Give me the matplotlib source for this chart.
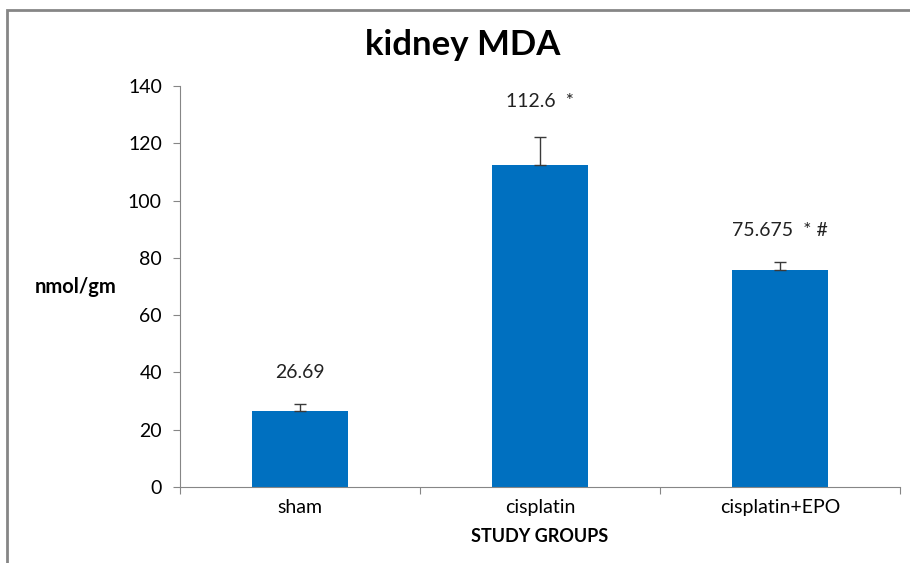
import matplotlib.pyplot as plt
from matplotlib.patches import Rectangle

groups = ['sham', 'cisplatin', 'cisplatin+EPO']
means = [26.69, 112.6, 75.675]
errors = [2.3, 9.6, 2.9]
labels = ['26.69', '112.6  *', '75.675  * #']
label_y = [40, 134.5, 89.7]

plt.rcParams['font.family'] = ['Lato', 'DejaVu Sans']

fig = plt.figure(figsize=(9.1, 5.63), dpi=100)
ax = fig.add_axes([0.1978, 0.135, 0.791, 0.712])

x = list(range(len(groups)))
ax.bar(x, means, width=0.4, color='#0070C0', zorder=2)
ax.errorbar(x, means, yerr=[[0] * 3, errors], fmt='none', ecolor='#3a3a3a',
            elinewidth=1, capsize=4, capthick=1, zorder=3)
for xi, t, yy in zip(x, labels, label_y):
    ax.text(xi, yy, t, ha='center', va='center', fontsize=14, color='#222222')

ax.set_xlim(-0.5, 2.5)
ax.set_ylim(0, 140)
ax.set_yticks(range(0, 141, 20))
ax.set_xticks([-0.5, 0.5, 1.5, 2.5], minor=False)
ax.set_xticklabels([])
ax.set_xticks(x, minor=True)
ax.set_xticklabels(groups, minor=True)
ax.tick_params(axis='x', which='minor', length=0, labelsize=14, pad=9)
ax.tick_params(axis='x', which='major', length=5, color='#868686')
ax.tick_params(axis='y', length=5, color='#868686', labelsize=14, pad=8)
for s in ['top', 'right']:
    ax.spines[s].set_visible(False)
for s in ['left', 'bottom']:
    ax.spines[s].set_color('#868686')

fig.text(463 / 910, 1 - 45 / 563, 'kidney MDA', fontsize=25, fontweight='bold',
         ha='center', va='center')
fig.text(540 / 910, 1 - 536 / 563, 'STUDY GROUPS', fontsize=13, fontweight='bold',
         ha='center', va='center')
fig.text(0.038, 1 - 287 / 563, 'nmol/gm', fontsize=14.5, fontweight='bold', va='center')

fig.patches.append(Rectangle((7 / 910, -0.1), 1.2, 1 - 10 / 563 + 0.1,
                             transform=fig.transFigure, fill=False,
                             edgecolor='#868686', linewidth=2))

fig.savefig('out.png', dpi=100)
